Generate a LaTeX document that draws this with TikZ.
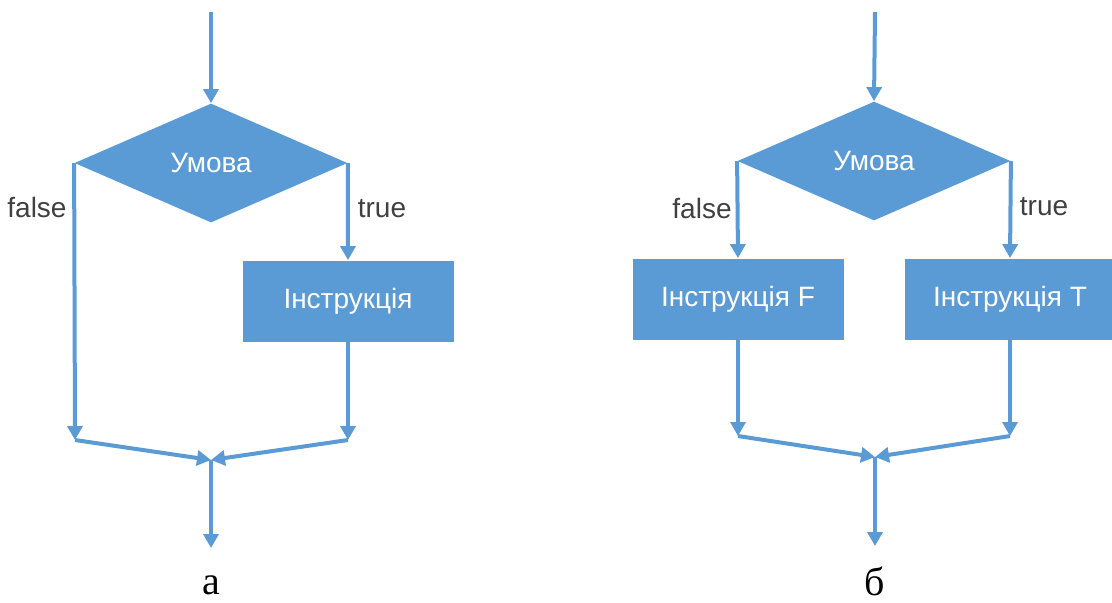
\documentclass[tikz,border=0pt]{standalone}
\usepackage{fontspec}
\setmainfont{Liberation Sans}
\newfontfamily\capfont{Liberation Serif}
\usetikzlibrary{shapes.geometric,arrows.meta}

\definecolor{flowblue}{HTML}{5B9BD5}
\definecolor{labelgray}{HTML}{404040}

\tikzset{
    cond/.style={diamond, fill=flowblue, text=white, inner sep=0pt, minimum width=136.5pt, minimum height=59.5pt, font=\fontsize{14}{16}\selectfont},
    instr/.style={rectangle, fill=flowblue, text=white, inner sep=0pt, minimum width=105.5pt, minimum height=40.5pt, font=\fontsize{14}{16}\selectfont},
    branch/.style={text=labelgray, font=\fontsize{14}{16}\selectfont},
    caption/.style={inner sep=0pt, font=\capfont\fontsize{20}{22}\selectfont},
    flow/.style={draw=flowblue, line width=2pt, -{Triangle[width=7.5pt,length=7pt]}}
}

\begin{document}
\begin{tikzpicture}[x=0.5pt,y=-0.5pt]
            \useasboundingbox (0,0) rectangle (1112,602);

            % a
            \coordinate (a-in) at (211,12);
            \node[cond] at (211,163) (a-cond) {Умова};
            \node[instr] at (348,301) (a-t) {Інструкція};
            \coordinate (a-fj) at (75,440);
            \coordinate (a-tj) at (348,440);
            \coordinate (a-m) at (211,460);
            \coordinate (a-out) at (211,548);

            \node[branch] at (37,207) (a-false) {false};
            \node[branch] at (382,209) (a-true) {true};
            \node[caption] at (211,585) (a-cap) {а};

            \draw[flow] (a-in) -- (a-cond.north);
            \draw[flow] (a-cond.west) -- (a-fj);
            \draw[flow] (a-cond.east) -- (a-t.north);
            \draw[flow] (a-t.south) -- (a-tj);
            \draw[flow] (a-fj) -- (a-m);
            \draw[flow] (a-tj) -- (a-m);
            \draw[flow] (a-m) -- (a-out);

            % b
            \coordinate (b-in) at (875,12);
            \node[cond] at (874,161) (b-cond) {Умова};
            \node[instr] at (738,299) (b-f) {Інструкція F};
            \node[instr] at (1010,299) (b-t) {Інструкція T};
            \coordinate (b-fj) at (738,436);
            \coordinate (b-tj) at (1010,436);
            \coordinate (b-m) at (875,457);
            \coordinate (b-out) at (875,546);

            \node[branch] at (702,208) (b-false) {false};
            \node[branch] at (1044,207) (b-true) {true};
            \node[caption] at (875,581) (b-cap) {б};

            \draw[flow] (b-in) -- (b-cond.north);
            \draw[flow] (b-cond.west) -- (b-f.north);
            \draw[flow] (b-cond.east) -- (b-t.north);
            \draw[flow] (b-f.south) -- (b-fj);
            \draw[flow] (b-t.south) -- (b-tj);
            \draw[flow] (b-fj) -- (b-m);
            \draw[flow] (b-tj) -- (b-m);
            \draw[flow] (b-m) -- (b-out);
\end{tikzpicture}
\end{document}
